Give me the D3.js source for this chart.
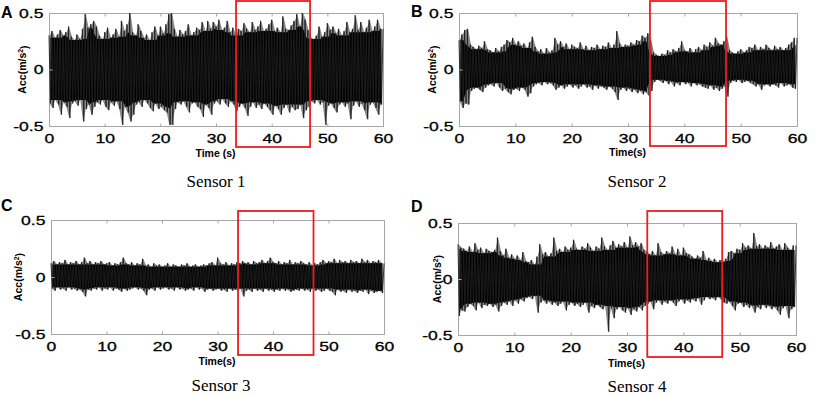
<!DOCTYPE html>
<html>
<head>
<meta charset="utf-8">
<script src="https://cdn.jsdelivr.net/npm/d3@7"></script>
<style>
  body { margin: 0; background: #fff; }
  svg { display: block; }
</style>
</head>
<body>
<svg id="chart"></svg>
<script>
// DATA ////////////////////////////////////////////////////////////////////////
// peak envelope of each record, one value per 0.5 s bin

var timeTicks = [0, 10, 20, 30, 40, 50, 60];
var accTicks = [-0.5, 0, 0.5];
var sensorNames = ["Sensor 1", "Sensor 2", "Sensor 3", "Sensor 4"];
var panelLetters = ["A", "B", "C", "D"];
var timeTitles = ["Time (s)", "Time(s)", "Time(s)", "Time(s)"];
var windowStart = [33.6, 33.9, 33.7, 33.6];
var windowEnd = [46.9, 47.4, 47.3, 46.9];

var s1_upper = [0.30, 0.34, 0.28, 0.31, 0.35, 0.30, 0.33, 0.38, 0.29, 0.26,
    0.31, 0.27, 0.36, 0.49, 0.37, 0.40, 0.43, 0.38, 0.30, 0.27,
    0.33, 0.37, 0.28, 0.31, 0.36, 0.29, 0.43, 0.34, 0.40, 0.50,
    0.33, 0.30, 0.40, 0.34, 0.28, 0.31, 0.26, 0.33, 0.38, 0.30,
    0.38, 0.32, 0.40, 0.49, 0.50, 0.36, 0.29, 0.35, 0.31, 0.34,
    0.40, 0.30, 0.33, 0.37, 0.35, 0.42, 0.34, 0.43, 0.36, 0.42,
    0.38, 0.44, 0.35, 0.37, 0.43, 0.33, 0.37, 0.30, 0.36, 0.34,
    0.41, 0.36, 0.33, 0.42, 0.35, 0.38, 0.43, 0.34, 0.36, 0.40,
    0.44, 0.34, 0.37, 0.33, 0.47, 0.36, 0.35, 0.39, 0.43, 0.49,
    0.38, 0.50, 0.44, 0.35, 0.28, 0.27, 0.30, 0.38, 0.29, 0.33,
    0.41, 0.35, 0.38, 0.32, 0.36, 0.30, 0.34, 0.42, 0.33, 0.36,
    0.48, 0.35, 0.42, 0.33, 0.37, 0.44, 0.34, 0.38, 0.44, 0.36];
var s1_lower = [-0.30, -0.34, -0.27, -0.31, -0.40, -0.29, -0.33, -0.43, -0.30, -0.28,
    -0.32, -0.27, -0.46, -0.35, -0.31, -0.40, -0.33, -0.29, -0.31, -0.27,
    -0.33, -0.36, -0.29, -0.32, -0.28, -0.35, -0.49, -0.33, -0.38, -0.46,
    -0.40, -0.31, -0.29, -0.33, -0.27, -0.30, -0.34, -0.37, -0.30, -0.35,
    -0.33, -0.36, -0.38, -0.49, -0.49, -0.35, -0.29, -0.31, -0.28, -0.33,
    -0.38, -0.30, -0.29, -0.33, -0.35, -0.42, -0.31, -0.34, -0.40, -0.30,
    -0.28, -0.31, -0.26, -0.30, -0.33, -0.28, -0.31, -0.37, -0.33, -0.30,
    -0.34, -0.41, -0.33, -0.29, -0.34, -0.31, -0.35, -0.30, -0.33, -0.36,
    -0.40, -0.32, -0.35, -0.40, -0.34, -0.31, -0.38, -0.33, -0.36, -0.35,
    -0.31, -0.43, -0.36, -0.33, -0.28, -0.30, -0.27, -0.31, -0.29, -0.49,
    -0.32, -0.30, -0.34, -0.38, -0.31, -0.29, -0.33, -0.30, -0.44, -0.32,
    -0.28, -0.33, -0.30, -0.36, -0.44, -0.31, -0.29, -0.34, -0.40, -0.31];

var s2_upper = [0.26, 0.31, 0.35, 0.36, 0.22, 0.20, 0.18, 0.21, 0.19, 0.25,
    0.18, 0.17, 0.15, 0.19, 0.16, 0.20, 0.22, 0.26, 0.24, 0.28,
    0.22, 0.25, 0.21, 0.23, 0.19, 0.24, 0.29, 0.20, 0.16, 0.18,
    0.14, 0.19, 0.15, 0.17, 0.28, 0.22, 0.25, 0.20, 0.23, 0.18,
    0.22, 0.20, 0.19, 0.24, 0.18, 0.21, 0.17, 0.20, 0.19, 0.22,
    0.18, 0.21, 0.20, 0.24, 0.19, 0.22, 0.34, 0.23, 0.20, 0.22,
    0.21, 0.24, 0.22, 0.26, 0.25, 0.30, 0.28, 0.32, 0.26, 0.15,
    0.13, 0.12, 0.14, 0.13, 0.17, 0.15, 0.18, 0.16, 0.19, 0.25,
    0.17, 0.16, 0.19, 0.15, 0.18, 0.20, 0.17, 0.22, 0.20, 0.24,
    0.21, 0.28, 0.23, 0.22, 0.25, 0.29, 0.17, 0.15, 0.14, 0.16,
    0.18, 0.15, 0.17, 0.20, 0.19, 0.22, 0.17, 0.20, 0.18, 0.22,
    0.19, 0.17, 0.21, 0.18, 0.20, 0.17, 0.19, 0.22, 0.24, 0.28];
var s2_lower = [-0.28, -0.34, -0.30, -0.31, -0.19, -0.17, -0.16, -0.18, -0.20, -0.16,
    -0.14, -0.13, -0.15, -0.12, -0.16, -0.19, -0.17, -0.20, -0.22, -0.18,
    -0.17, -0.19, -0.16, -0.18, -0.24, -0.21, -0.15, -0.13, -0.12, -0.14,
    -0.11, -0.13, -0.12, -0.14, -0.18, -0.16, -0.14, -0.17, -0.15, -0.13,
    -0.16, -0.14, -0.17, -0.15, -0.13, -0.16, -0.15, -0.18, -0.14, -0.17,
    -0.15, -0.16, -0.18, -0.15, -0.17, -0.20, -0.27, -0.18, -0.16, -0.19,
    -0.17, -0.20, -0.18, -0.21, -0.19, -0.22, -0.20, -0.23, -0.19, -0.11,
    -0.09, -0.10, -0.12, -0.10, -0.13, -0.11, -0.15, -0.12, -0.14, -0.11,
    -0.13, -0.12, -0.15, -0.12, -0.14, -0.13, -0.15, -0.16, -0.17, -0.14,
    -0.18, -0.16, -0.19, -0.17, -0.15, -0.24, -0.12, -0.10, -0.11, -0.09,
    -0.12, -0.11, -0.10, -0.12, -0.13, -0.15, -0.13, -0.18, -0.14, -0.13,
    -0.15, -0.13, -0.14, -0.16, -0.12, -0.15, -0.14, -0.13, -0.16, -0.17];

var s3_upper = [0.12, 0.14, 0.11, 0.13, 0.12, 0.15, 0.11, 0.13, 0.12, 0.14,
    0.11, 0.13, 0.17, 0.12, 0.14, 0.11, 0.13, 0.12, 0.14, 0.11,
    0.12, 0.13, 0.10, 0.12, 0.11, 0.13, 0.17, 0.12, 0.11, 0.13,
    0.10, 0.12, 0.11, 0.16, 0.10, 0.11, 0.09, 0.12, 0.10, 0.11,
    0.09, 0.10, 0.12, 0.09, 0.11, 0.10, 0.09, 0.11, 0.10, 0.12,
    0.09, 0.10, 0.11, 0.09, 0.10, 0.11, 0.10, 0.12, 0.13, 0.10,
    0.17, 0.12, 0.11, 0.13, 0.10, 0.12, 0.11, 0.13, 0.12, 0.14,
    0.12, 0.13, 0.11, 0.14, 0.12, 0.13, 0.15, 0.12, 0.14, 0.17,
    0.13, 0.12, 0.14, 0.11, 0.13, 0.12, 0.15, 0.11, 0.13, 0.12,
    0.14, 0.12, 0.11, 0.13, 0.10, 0.12, 0.11, 0.13, 0.15, 0.12,
    0.14, 0.13, 0.16, 0.12, 0.15, 0.13, 0.14, 0.12, 0.15, 0.13,
    0.14, 0.12, 0.16, 0.13, 0.15, 0.12, 0.14, 0.13, 0.15, 0.12];
var s3_lower = [-0.10, -0.12, -0.09, -0.11, -0.10, -0.12, -0.09, -0.11, -0.10, -0.12,
    -0.11, -0.13, -0.17, -0.11, -0.12, -0.10, -0.11, -0.09, -0.12, -0.10,
    -0.11, -0.09, -0.12, -0.10, -0.11, -0.13, -0.10, -0.12, -0.11, -0.10,
    -0.09, -0.11, -0.10, -0.12, -0.16, -0.11, -0.10, -0.12, -0.09, -0.11,
    -0.10, -0.09, -0.11, -0.10, -0.12, -0.09, -0.11, -0.10, -0.12, -0.11,
    -0.10, -0.12, -0.09, -0.11, -0.10, -0.13, -0.11, -0.10, -0.12, -0.11,
    -0.10, -0.12, -0.11, -0.13, -0.10, -0.12, -0.11, -0.12, -0.10, -0.17,
    -0.12, -0.11, -0.13, -0.10, -0.12, -0.11, -0.13, -0.10, -0.12, -0.11,
    -0.13, -0.11, -0.12, -0.10, -0.12, -0.11, -0.13, -0.12, -0.11, -0.12,
    -0.10, -0.12, -0.11, -0.13, -0.10, -0.12, -0.11, -0.13, -0.12, -0.10,
    -0.12, -0.13, -0.16, -0.11, -0.13, -0.12, -0.14, -0.11, -0.13, -0.12,
    -0.14, -0.12, -0.13, -0.11, -0.15, -0.12, -0.14, -0.13, -0.12, -0.14];

var s4_upper = [0.31, 0.28, 0.27, 0.25, 0.29, 0.24, 0.32, 0.26, 0.28, 0.23,
    0.27, 0.25, 0.24, 0.26, 0.37, 0.25, 0.21, 0.27, 0.19, 0.22,
    0.18, 0.21, 0.17, 0.24, 0.16, 0.15, 0.17, 0.13, 0.20, 0.31,
    0.22, 0.24, 0.20, 0.23, 0.37, 0.25, 0.27, 0.24, 0.29, 0.26,
    0.28, 0.35, 0.27, 0.26, 0.29, 0.27, 0.32, 0.28, 0.25, 0.29,
    0.27, 0.37, 0.29, 0.26, 0.30, 0.34, 0.28, 0.31, 0.29, 0.33,
    0.28, 0.38, 0.30, 0.33, 0.29, 0.32, 0.26, 0.24, 0.22, 0.25,
    0.21, 0.32, 0.24, 0.22, 0.25, 0.23, 0.29, 0.22, 0.27, 0.21,
    0.28, 0.23, 0.22, 0.20, 0.18, 0.21, 0.19, 0.25, 0.17, 0.19,
    0.16, 0.18, 0.15, 0.17, 0.16, 0.18, 0.24, 0.25, 0.23, 0.27,
    0.26, 0.32, 0.28, 0.30, 0.27, 0.41, 0.29, 0.31, 0.27, 0.30,
    0.28, 0.33, 0.27, 0.29, 0.31, 0.26, 0.32, 0.28, 0.26, 0.30];
var s4_lower = [-0.33, -0.28, -0.29, -0.25, -0.22, -0.24, -0.28, -0.21, -0.26, -0.23,
    -0.24, -0.22, -0.25, -0.23, -0.29, -0.24, -0.21, -0.23, -0.20, -0.24,
    -0.19, -0.22, -0.18, -0.20, -0.17, -0.16, -0.18, -0.15, -0.30, -0.21,
    -0.19, -0.22, -0.20, -0.23, -0.21, -0.24, -0.22, -0.20, -0.28, -0.23,
    -0.21, -0.24, -0.22, -0.25, -0.23, -0.21, -0.30, -0.24, -0.26, -0.23,
    -0.25, -0.27, -0.24, -0.47, -0.26, -0.35, -0.27, -0.25, -0.28, -0.30,
    -0.26, -0.32, -0.27, -0.29, -0.25, -0.28, -0.24, -0.22, -0.20, -0.27,
    -0.21, -0.19, -0.23, -0.20, -0.22, -0.19, -0.21, -0.24, -0.20, -0.18,
    -0.22, -0.19, -0.21, -0.18, -0.20, -0.17, -0.23, -0.19, -0.16, -0.18,
    -0.17, -0.19, -0.16, -0.18, -0.21, -0.22, -0.20, -0.24, -0.28, -0.22,
    -0.21, -0.25, -0.23, -0.26, -0.24, -0.30, -0.25, -0.27, -0.23, -0.26,
    -0.24, -0.27, -0.25, -0.28, -0.32, -0.26, -0.24, -0.35, -0.27, -0.25];

var uppers = [s1_upper, s2_upper, s3_upper, s4_upper];
var lowers = [s1_lower, s2_lower, s3_lower, s4_lower];


// LAYOUT //////////////////////////////////////////////////////////////////////

var WIDTH = 830, HEIGHT = 397;
var TICK_STRETCH = 1.35;   // figure fonts are horizontally stretched
var CORE_SPAN = 2;         // bins each side used for the solid core

// plot boxes + where the labels sit, per panel
var panels = [
    { left: 49, right: 383, top: 13, bottom: 126, boxTop: 1, boxBottom: 147,
      letterX: 1, letterY: 18, yTitleX: 22.5, xTitleY: 157, sensorX: 216, sensorY: 187 },
    { left: 459, right: 797, top: 13, bottom: 126, boxTop: 1, boxBottom: 146,
      letterX: 411, letterY: 17, yTitleX: 432.5, xTitleY: 156, sensorX: 637, sensorY: 187 },
    { left: 51, right: 384, top: 220, bottom: 334, boxTop: 211, boxBottom: 355,
      letterX: 1, letterY: 211, yTitleX: 18, xTitleY: 365, sensorX: 221, sensorY: 391 },
    { left: 458, right: 796, top: 223, bottom: 335, boxTop: 211, boxBottom: 357,
      letterX: 411, letterY: 212, yTitleX: 437, xTitleY: 367, sensorX: 637, sensorY: 392 }
];

var svg = d3.select('#chart')
    .attr('width', WIDTH)
    .attr('height', HEIGHT)

function accFormat(d) {
    if (d === 0) return "0";
    return (d < 0 ? "-" : "") + Math.abs(d).toFixed(1);
}

function drawPanel(p, k) {
    var up = uppers[k], lo = lowers[k];
    var n = up.length;

    var x = d3.scaleLinear().domain([0, 60]).range([p.left, p.right]);
    var y = d3.scaleLinear().domain([-0.5, 0.5]).range([p.bottom, p.top]);
    var dt = 60 / n;

    var bins = d3.range(n).map(function (i) {
        // dense core = lowest peak among neighbouring bins
        var a = Math.max(0, i - CORE_SPAN), b = Math.min(n - 1, i + CORE_SPAN);
        return {
            t: i * dt, hi: up[i], lo: lo[i],
            coreHi: d3.min(up.slice(a, b + 1)),
            coreLo: d3.max(lo.slice(a, b + 1))
        };
    });

    var g = svg.append("g");

    // axes box (matlab style)
    g.append("rect")
        .attr("x", p.left + 0.5)
        .attr("y", p.top + 0.5)
        .attr("width", p.right - p.left)
        .attr("height", p.bottom - p.top)
        .attr("fill", "white")
        .attr("stroke", "#a6a6a6")
        .attr("stroke-width", 1)

    var plot = g.append("g");

    // grey fringe under the peaks
    plot.append("path")
        .datum(bins)
        .attr("d", d3.area()
            .x(function (d) { return x(d.t + dt / 4); })
            .y0(function (d) { return y(d.lo); })
            .y1(function (d) { return y(d.hi); }))
        .attr("fill", "#8a8a8a")

    // solid core of the record
    plot.append("path")
        .datum(bins)
        .attr("d", d3.area()
            .x(function (d) { return x(d.t + dt / 2); })
            .y0(function (d) { return y(d.coreLo); })
            .y1(function (d) { return y(d.coreHi); }))
        .attr("fill", "#000")

    // trace swinging between the peaks of each bin
    var trace = [];
    bins.forEach(function (d) {
        trace.push([d.t, d.hi]);
        trace.push([d.t + dt / 2, d.lo]);
    });
    trace.push([60, bins[n - 1].hi]);

    plot.append("path")
        .datum(trace)
        .attr("d", d3.line()
            .x(function (d) { return x(d[0]); })
            .y(function (d) { return y(d[1]); }))
        .attr("fill", "none")
        .attr("stroke", "#1e1e1e")
        .attr("stroke-width", 0.9)
        .attr("stroke-linejoin", "miter")

    // bottom axis, ticks inward
    g.append("g")
        .attr("transform", "translate(0," + (p.bottom + 0.5) + ")")
        .call(d3.axisBottom(x).tickValues(timeTicks).tickSize(-3).tickPadding(7).tickFormat(d3.format("d")));
    // top ticks
    g.append("g")
        .attr("transform", "translate(0," + (p.top + 0.5) + ")")
        .call(d3.axisTop(x).tickValues(timeTicks).tickSize(-3).tickFormat(""));
    // left axis
    g.append("g")
        .attr("transform", "translate(" + (p.left + 0.5) + ",0)")
        .call(d3.axisLeft(y).tickValues(accTicks).tickSize(-3).tickPadding(4.5).tickFormat(accFormat));

    g.selectAll(".domain").remove();
    g.selectAll(".tick line").attr("stroke", "#a6a6a6");
    g.selectAll(".tick text")
        .attr("transform", "scale(" + TICK_STRETCH + ",1)")
        .style("font-family", "'Liberation Sans', Arial, sans-serif")
        .style("font-size", "13px")
        .attr("fill", "#000")
        .attr("stroke", "#000")
        .attr("stroke-width", 0.3);

    // highlighted window
    g.append("rect")
        .attr("x", x(windowStart[k]))
        .attr("y", p.boxTop)
        .attr("width", x(windowEnd[k]) - x(windowStart[k]))
        .attr("height", p.boxBottom - p.boxTop)
        .attr("fill", "none")
        .attr("stroke", "#ee1c1c")
        .attr("stroke-width", 1.8)

    // axis titles
    g.append("text")
        .text(timeTitles[k])
        .attr("x", (p.left + p.right) / 2 - 0.5)
        .attr("y", p.xTitleY)
        .style("font-family", "'Liberation Sans', Arial, sans-serif")
        .style("font-weight", "700")
        .style("font-size", "10.5px")
        .style("text-anchor", "middle")

    var yt = g.append("text")
        .attr("transform", "translate(" + p.yTitleX + "," + ((p.top + p.bottom) / 2) + ") rotate(-90)")
        .attr("dy", "0.35em")
        .style("font-family", "'Liberation Sans', Arial, sans-serif")
        .style("font-weight", "700")
        .style("font-size", "10.5px")
        .style("text-anchor", "middle")
    yt.append("tspan").text("Acc(m/s");
    yt.append("tspan").text("2").attr("dy", "-0.45em").style("font-size", "7px");
    yt.append("tspan").text(")").attr("dy", "0.45em");

    // panel letter
    g.append("text")
        .text(panelLetters[k])
        .attr("x", p.letterX)
        .attr("y", p.letterY)
        .style("font-family", "'Liberation Sans', Arial, sans-serif")
        .style("font-weight", "700")
        .style("font-size", "16px")

    // sensor caption
    g.append("text")
        .text(sensorNames[k])
        .attr("x", p.sensorX)
        .attr("y", p.sensorY)
        .style("font-family", "'Liberation Serif', 'Times New Roman', serif")
        .style("font-size", "17px")
        .style("text-anchor", "middle")
}

panels.forEach(drawPanel);
</script>
</body>
</html>
